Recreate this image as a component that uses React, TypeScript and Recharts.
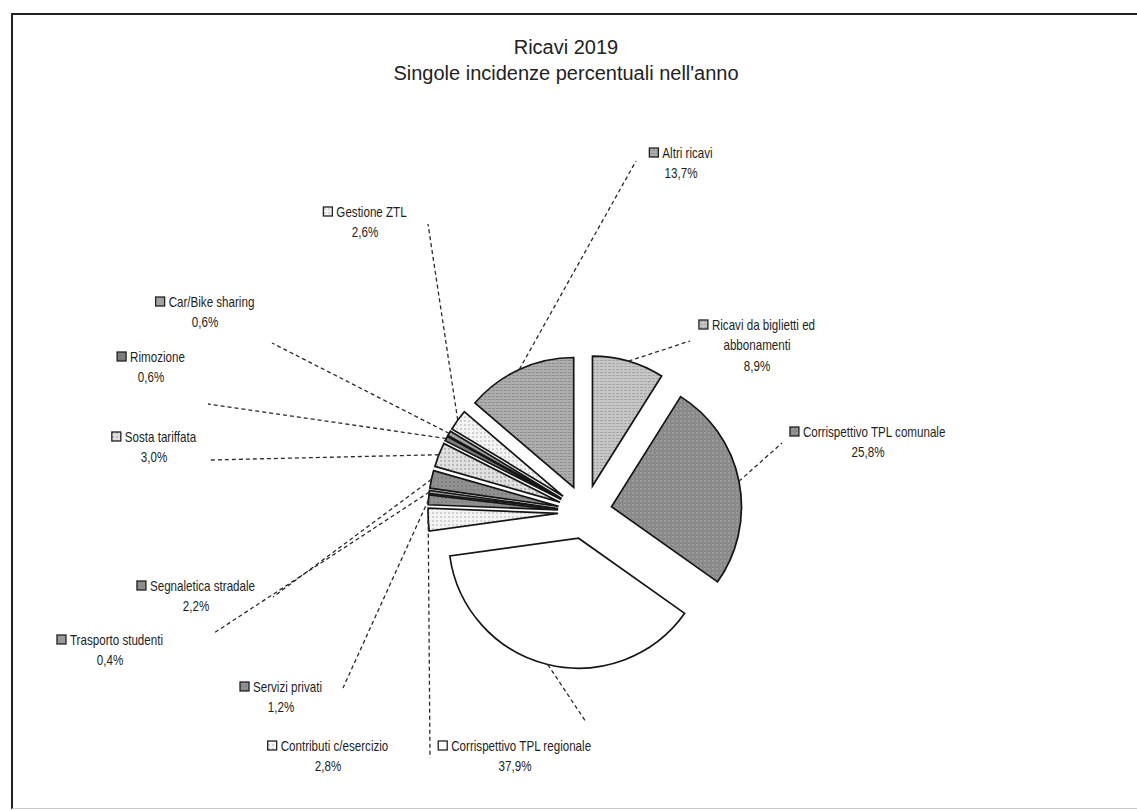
import React from 'react';
import { PieChart, Pie, Sector } from 'recharts';

// Ricavi 2019 - incidenze percentuali
const categories = [
  'Ricavi da biglietti ed abbonamenti',
  'Corrispettivo TPL comunale',
  'Corrispettivo TPL regionale',
  'Contributi c/esercizio',
  'Servizi privati',
  'Trasporto studenti',
  'Segnaletica stradale',
  'Sosta tariffata',
  'Rimozione',
  'Car/Bike sharing',
  'Gestione ZTL',
  'Altri ricavi',
];
const shares = [8.9, 25.8, 37.9, 2.8, 1.2, 0.4, 2.2, 3.0, 0.6, 0.6, 2.6, 13.7];

const fills = [
  'url(#g1)', 'url(#g2)', '#ffffff', 'url(#dotsLight)', 'url(#g3)', '#9a9a9a',
  'url(#g3)', 'url(#dotsMid)', '#7c7c7c', '#a2a2a2', 'url(#dotsLight)', 'url(#g4)',
];
// label block centre and leader anchor, relative to pie centre
const labelOffsets = [
  [172, -187], [283, -80], [-70, 234], [-257, 234], [-304, 175], [-475, 128],
  [-389, 74], [-431, -75], [-434, -155], [-380, -210], [-220, -300], [96, -359],
];
const leaderOffsets = [
  [105, -171], [197, -69], [1, 210], [-155, 246], [-242, 176], [-371, 121],
  [-312, 85], [-375, -52], [-377, -108], [-313, -169], [-157, -288], [51, -351],
];

const data = categories.map((name, i) => ({ name, value: shares[i] }));

const EXPLODE = 27;
const LABEL_FONT = "'Liberation Sans', Arial, sans-serif";
const FONT_SIZE = 14.5;
const SQUEEZE = 0.8;
const LINE_H = 20.5;

const RAD = Math.PI / 180;
const polar = (cx: number, cy: number, r: number, a: number) => ({
  x: cx + r * Math.cos(-a * RAD),
  y: cy + r * Math.sin(-a * RAD),
});

let ctx: CanvasRenderingContext2D | null = null;
function textWidth(t: string) {
  if (!ctx) ctx = document.createElement('canvas').getContext('2d');
  if (!ctx) return t.length * 6.5 * SQUEEZE;
  ctx.font = `${FONT_SIZE}px ${LABEL_FONT}`;
  return ctx.measureText(t).width * SQUEEZE;
}

function wrap(name: string, max = 28) {
  const out: string[] = [];
  let cur = '';
  name.split(' ').forEach((w) => {
    if (cur && (cur + ' ' + w).length > max) {
      out.push(cur);
      cur = w;
    } else cur = cur ? cur + ' ' + w : w;
  });
  out.push(cur);
  return out;
}

const fmt = (v: number) => v.toFixed(1).replace('.', ',') + '%';

function Narrow({ x, y, anchor, children }: { x: number; y: number; anchor: 'start' | 'middle'; children: string }) {
  return (
    <g transform={`translate(${x},${y}) scale(${SQUEEZE},1)`}>
      <text x={0} y={0} fontSize={FONT_SIZE} fontFamily={LABEL_FONT} fill="#1e1e1e"
        textAnchor={anchor} dominantBaseline="central">
        {children}
      </text>
    </g>
  );
}

function renderSlice(props: any) {
  const { cx, cy, innerRadius, outerRadius, startAngle, endAngle, midAngle, index, value, name } = props;
  const c = polar(cx, cy, EXPLODE, midAngle);
  const edge = polar(c.x, c.y, outerRadius, midAngle);
  const [lx, ly] = labelOffsets[index];
  const [ax, ay] = leaderOffsets[index];
  const tx = cx + lx;
  const ty = cy + ly;
  const lines = wrap(name);
  const w0 = 9 + 4 + textWidth(lines[0]);
  const x0 = tx - w0 / 2;
  return (
    <g>
      <Sector
        cx={c.x}
        cy={c.y}
        innerRadius={innerRadius}
        outerRadius={outerRadius}
        startAngle={startAngle}
        endAngle={endAngle}
        fill={fills[index]}
        stroke="#151515"
        strokeWidth={1.7}
      />
      <line
        x1={edge.x}
        y1={edge.y}
        x2={cx + ax}
        y2={cy + ay}
        stroke="#2a2a2a"
        strokeWidth={1.3}
        strokeDasharray="4 3"
      />
      <rect x={x0} y={ty - 5} width={9} height={9} fill={fills[index]} stroke="#222" strokeWidth={1.3} />
      <Narrow x={x0 + 13} y={ty} anchor="start">{lines[0]}</Narrow>
      {lines.slice(1).map((l, k) => (
        <Narrow key={k} x={tx} y={ty + LINE_H * (k + 1)} anchor="middle">{l}</Narrow>
      ))}
      <Narrow x={tx} y={ty + LINE_H * lines.length} anchor="middle">{fmt(value)}</Narrow>
    </g>
  );
}

export default function App() {
  return (
    <div style={{ position: 'absolute', left: 0, top: 0, width: 1137, height: 810, background: '#fff', overflow: 'hidden' }}>
      <svg width={0} height={0} style={{ position: 'absolute' }}>
        <defs>
          <pattern id="dotsLight" width={4} height={4} patternUnits="userSpaceOnUse">
            <rect width={4} height={4} fill="#f4f4f4" />
            <circle cx={1} cy={1} r={0.7} fill="#9a9a9a" />
          </pattern>
          <pattern id="dotsMid" width={4} height={4} patternUnits="userSpaceOnUse">
            <rect width={4} height={4} fill="#e0e0e0" />
            <circle cx={1} cy={1} r={0.8} fill="#8a8a8a" />
          </pattern>
          <pattern id="g1" width={4} height={3} patternUnits="userSpaceOnUse">
            <rect width={4} height={3} fill="#c6c6c6" />
            <rect width={3} height={1} fill="#a8a8a8" />
          </pattern>
          <pattern id="g2" width={4} height={4} patternUnits="userSpaceOnUse">
            <rect width={4} height={4} fill="#8a8a8a" />
            <circle cx={1} cy={1} r={0.7} fill="#b4b4b4" />
          </pattern>
          <pattern id="g3" width={4} height={4} patternUnits="userSpaceOnUse">
            <rect width={4} height={4} fill="#909090" />
            <circle cx={2} cy={2} r={0.7} fill="#6a6a6a" />
          </pattern>
          <pattern id="g4" width={4} height={3} patternUnits="userSpaceOnUse">
            <rect width={4} height={3} fill="#adadad" />
            <rect width={3} height={1} fill="#909090" />
          </pattern>
        </defs>
      </svg>
      <div style={{ position: 'absolute', left: 11, top: 13, width: 1126, height: 793,
        borderTop: '2px solid #222', borderLeft: '2px solid #222', borderBottom: '1px solid #c8c8c8' }} />
      <div style={{ position: 'absolute', left: 0, width: 1132, top: 34, textAlign: 'center',
        fontFamily: "'Liberation Sans', Arial, sans-serif", fontSize: 20, color: '#222', lineHeight: '26px' }}>
        <div>Ricavi 2019</div>
        <div>Singole incidenze percentuali nell'anno</div>
      </div>
      <PieChart width={1137} height={810} margin={{ top: 0, right: 0, bottom: 0, left: 0 }}>
        <Pie
          data={data}
          dataKey="value"
          nameKey="name"
          cx={585}
          cy={512}
          outerRadius={130}
          startAngle={90}
          endAngle={-270}
          fill="none"
          stroke="none"
          label={renderSlice}
          labelLine={false}
          isAnimationActive={false}
        />
      </PieChart>
    </div>
  );
}
